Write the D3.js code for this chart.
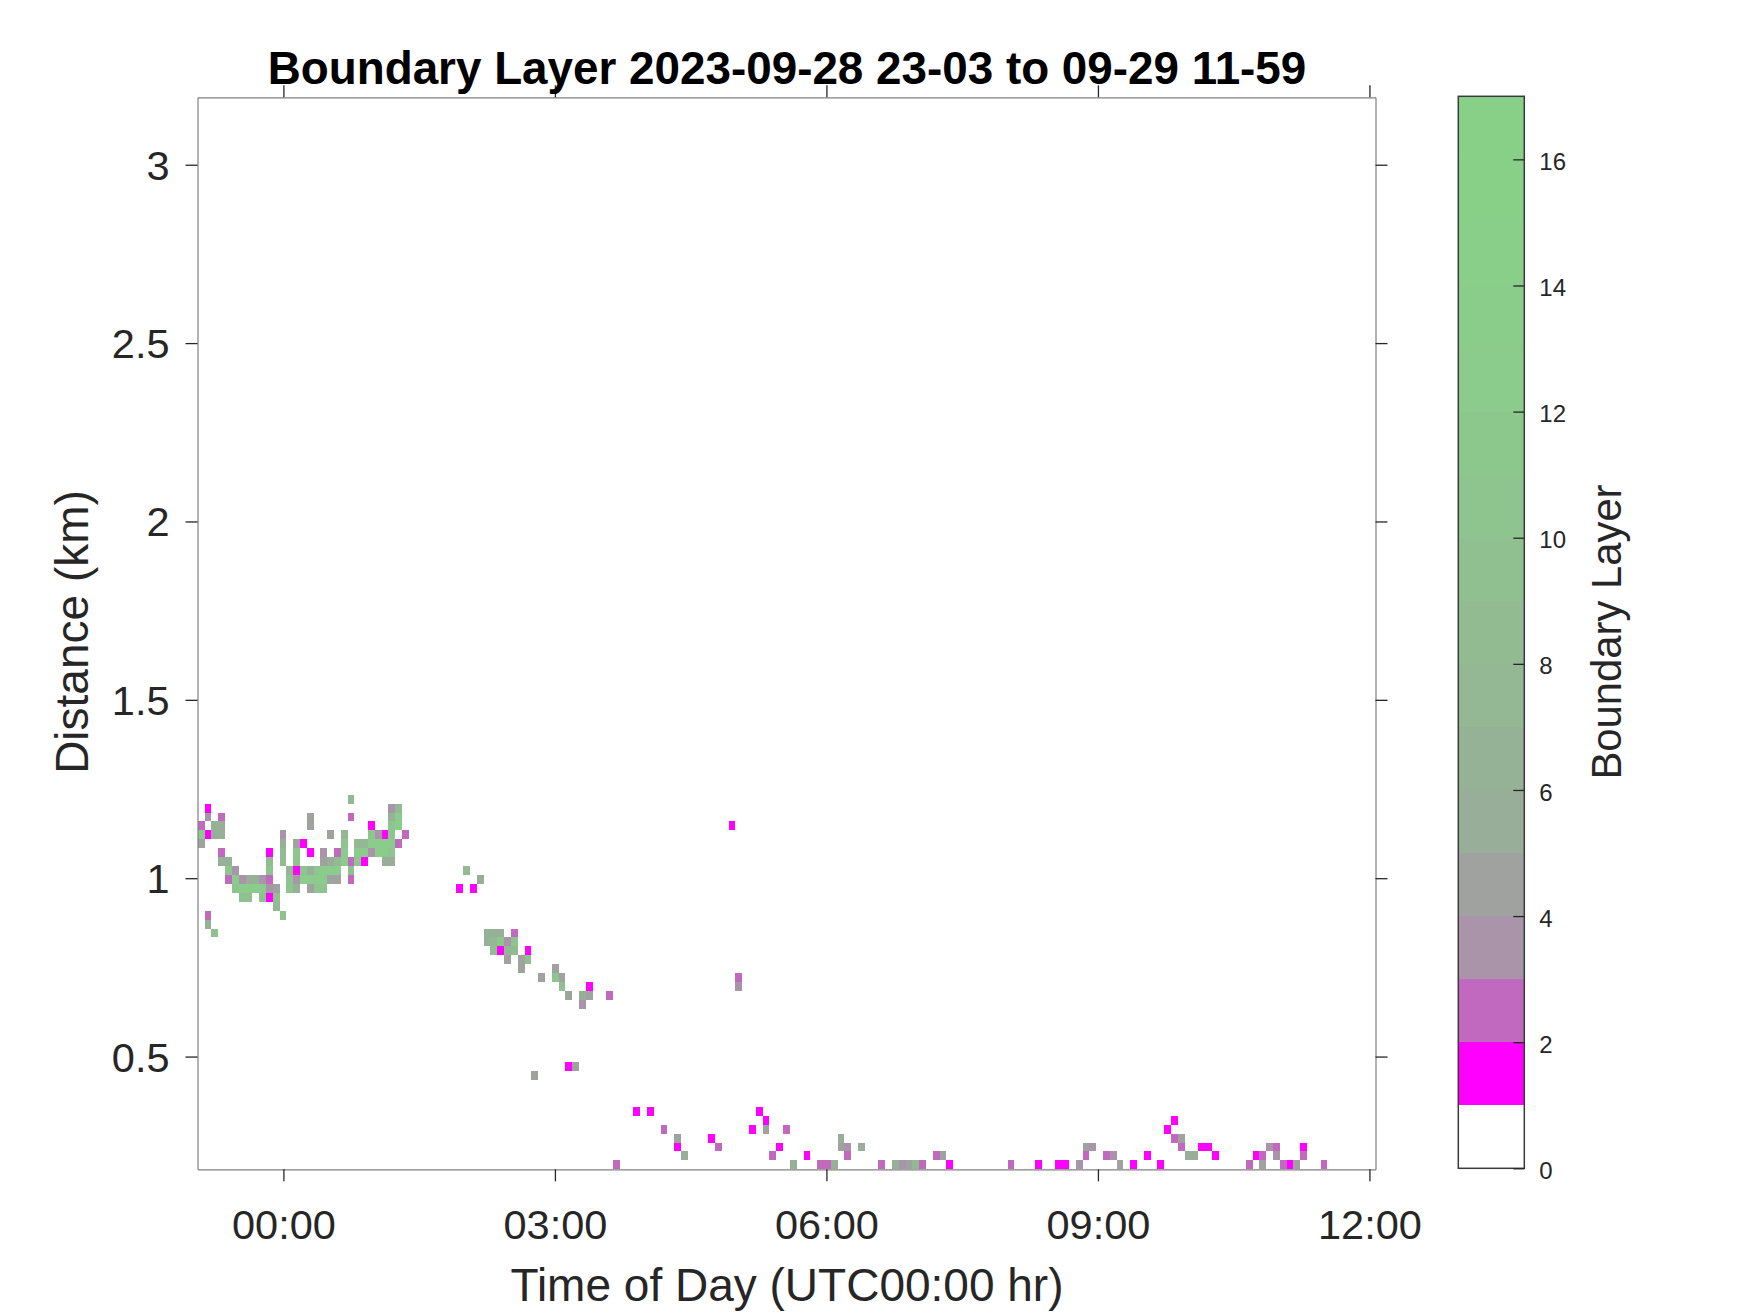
<!DOCTYPE html>
<html><head><meta charset="utf-8">
<script src="https://cdn.jsdelivr.net/npm/d3@7"></script>
<style>html,body{margin:0;background:#fff}svg{display:block}text{font-family:"Liberation Sans",Arial,sans-serif}</style>
</head><body><svg id="c" width="1750" height="1313"></svg>
<script>
const titleText = "Boundary Layer 2023-09-28 23-03 to 09-29 11-59";
const xLabel = "Time of Day (UTC00:00 hr)";
const yLabel = "Distance (km)";
const cLabel = "Boundary Layer";
const xTicks = [0, 3, 6, 9, 12];
const xTickLabels = ["00:00", "03:00", "06:00", "09:00", "12:00"];
const yTicks = [0.5, 1, 1.5, 2, 2.5, 3];
const yTickLabels = ["0.5", "1", "1.5", "2", "2.5", "3"];
const cTicks = [0, 2, 4, 6, 8, 10, 12, 14, 16];
const xDomain = [-0.9492, 12.067];
const yDomain = [0.184, 3.189];
const cDomain = [0, 17];
// first scan time (hours) and time step; first gate distance (km) and gate step
const startHour = -0.945, hourStep = 0.07519;
const startKm = 0.184, kmStep = 0.025;
// colormap, one colour per level 0..16
const levelColors = ["#ffffff","#ff00ff","#c069bf","#aa94aa","#9fa29f","#98ae98","#96b296","#94b794","#92bb92","#90c090","#8ec48e","#8cc88c","#8bcb8b","#8acd8a","#89ce89","#88cf88","#88d088"];
// [time bin, gate, level]
const cells = [
[22,41,7],
[1,40,1],[28,40,3],[29,40,8],
[1,39,3],[3,39,2],[16,39,4],[22,39,2],[28,39,6],[29,39,12],
[0,38,2],[2,38,6],[3,38,5],[16,38,4],[25,38,1],[28,38,10],[29,38,12],[78,38,1],
[0,37,12],[1,37,1],[2,37,5],[3,37,5],[12,37,3],[19,37,4],[21,37,7],[25,37,10],[26,37,3],[27,37,1],[28,37,10],[30,37,2],
[0,36,4],[12,36,6],[14,36,4],[15,36,1],[21,36,10],[23,36,7],[24,36,7],[25,36,12],[26,36,12],[27,36,12],[28,36,12],[29,36,2],
[3,35,2],[10,35,1],[12,35,8],[14,35,10],[16,35,1],[18,35,3],[20,35,2],[21,35,12],[23,35,12],[24,35,12],[25,35,3],[26,35,12],[27,35,12],[28,35,10],
[3,34,6],[4,34,6],[10,34,8],[12,34,8],[14,34,10],[18,34,4],[19,34,5],[20,34,8],[21,34,12],[22,34,2],[23,34,10],[24,34,1],[27,34,5],[28,34,5],
[4,33,10],[5,33,3],[10,33,10],[13,33,7],[14,33,1],[15,33,10],[16,33,6],[17,33,10],[18,33,12],[19,33,12],[20,33,12],[22,33,9],[39,33,8],
[4,32,2],[5,32,12],[6,32,3],[7,32,5],[8,32,6],[9,32,3],[10,32,2],[13,32,10],[14,32,3],[15,32,12],[16,32,12],[17,32,12],[18,32,12],[19,32,4],[20,32,4],[22,32,2],[41,32,5],
[5,31,10],[6,31,12],[7,31,12],[8,31,12],[9,31,12],[10,31,3],[11,31,4],[13,31,10],[14,31,6],[16,31,4],[17,31,10],[18,31,10],[38,31,1],[40,31,1],
[6,30,9],[7,30,9],[9,30,9],[10,30,1],[11,30,9],
[11,29,8],
[1,28,2],[12,28,9],
[1,27,6],
[2,26,9],[42,26,6],[43,26,6],[44,26,5],[46,26,2],
[42,25,6],[43,25,7],[44,25,11],[45,25,3],[46,25,10],
[43,24,9],[44,24,1],[45,24,7],[46,24,8],[48,24,1],
[45,23,4],[47,23,4],[48,23,9],
[47,22,4],[52,22,4],
[50,21,4],[52,21,10],[53,21,4],[79,21,2],
[53,20,9],[57,20,1],[79,20,3],
[54,19,4],[56,19,5],[57,19,4],[60,19,2],
[56,18,3],
[54,11,1],[55,11,4],
[49,10,4],
[64,6,1],[66,6,1],[82,6,1],
[83,5,1],[143,5,1],
[68,4,2],[81,4,1],[83,4,4],[86,4,2],[142,4,1],
[70,3,4],[75,3,1],[94,3,5],[143,3,2],[144,3,4],
[70,2,1],[76,2,2],[85,2,1],[94,2,4],[95,2,3],[97,2,5],[130,2,4],[131,2,3],[144,2,2],[147,2,1],[148,2,1],[157,2,3],[158,2,2],[162,2,1],
[71,1,5],[84,1,2],[89,1,1],[95,1,2],[108,1,2],[109,1,4],[130,1,2],[133,1,2],[134,1,3],[139,1,1],[145,1,5],[146,1,5],[149,1,1],[155,1,1],[156,1,2],[158,1,3],[162,1,2],
[61,0,2],[87,0,5],[91,0,2],[92,0,2],[93,0,6],[100,0,2],[102,0,6],[103,0,3],[104,0,4],[105,0,7],[106,0,2],[110,0,1],[119,0,2],[123,0,1],[126,0,1],[127,0,1],[129,0,3],[135,0,4],[137,0,1],[141,0,1],[154,0,2],[156,0,4],[159,0,2],[160,0,1],[161,0,4],[165,0,2]
];

const plotL = 197.5, plotR = 1375.5, plotT = 97.3, plotB = 1169.3;
const barL = 1458.3, barR = 1524.3, barT = 96.3, barB = 1168.3;
const ink = "#262626", frame = "#808080";

const svg = d3.select("#c");
const x = d3.scaleLinear().domain(xDomain).range([plotL, plotR]);
const y = d3.scaleLinear().domain(yDomain).range([plotB, plotT]);
const c = d3.scaleLinear().domain(cDomain).range([barB, barT]);

svg.append("clipPath").attr("id","plot").append("rect")
  .attr("x",plotL).attr("y",plotT).attr("width",plotR-plotL).attr("height",plotB-plotT);

svg.append("g").attr("clip-path","url(#plot)").attr("shape-rendering","crispEdges").selectAll("rect").data(cells).join("rect")
  .attr("x", d => x(startHour + d[0]*hourStep))
  .attr("width", d => x(startHour + (d[0]+1)*hourStep) - x(startHour + d[0]*hourStep))
  .attr("y", d => y(startKm + (d[1]+1)*kmStep))
  .attr("height", d => y(startKm + d[1]*kmStep) - y(startKm + (d[1]+1)*kmStep))
  .attr("fill", d => levelColors[d[2]]);

function styleAxis(g, fs) {
  g.select(".domain").attr("stroke", frame).attr("stroke-width", 1.2);
  g.selectAll(".tick line").attr("stroke", ink).attr("stroke-width", 1.3);
  g.selectAll(".tick text").attr("fill", ink).attr("font-size", fs).attr("font-family", '"Liberation Sans",Arial,sans-serif');
}
const xFmt = d => xTickLabels[xTicks.indexOf(d)];
const yFmt = d => yTickLabels[yTicks.indexOf(d)];
svg.append("g").attr("transform",`translate(0,${plotB})`)
  .call(d3.axisBottom(x).tickValues(xTicks).tickFormat(xFmt).tickSize(12).tickSizeOuter(0).tickPadding(28))
  .call(g => styleAxis(g, 41.5));
svg.append("g").attr("transform",`translate(0,${plotT})`)
  .call(d3.axisTop(x).tickValues(xTicks).tickFormat("").tickSize(12).tickSizeOuter(0))
  .call(g => styleAxis(g, 41.5));
svg.append("g").attr("transform",`translate(${plotL},0)`)
  .call(d3.axisLeft(y).tickValues(yTicks).tickFormat(yFmt).tickSize(12).tickSizeOuter(0).tickPadding(16))
  .call(g => styleAxis(g, 41.5))
  .call(g => g.selectAll(".tick text").attr("dy","0.35em"));
svg.append("g").attr("transform",`translate(${plotR},0)`)
  .call(d3.axisRight(y).tickValues(yTicks).tickFormat("").tickSize(12).tickSizeOuter(0))
  .call(g => styleAxis(g, 41.5));

// colour bar
svg.append("g").attr("shape-rendering","crispEdges").selectAll("rect").data(levelColors).join("rect")
  .attr("x", barL).attr("width", barR-barL)
  .attr("y", (d,i) => c(i+1)).attr("height", (d,i) => c(i)-c(i+1))
  .attr("fill", d => d);
svg.append("rect").attr("x",barL).attr("y",barT).attr("width",barR-barL).attr("height",barB-barT)
  .attr("fill","none").attr("stroke","#3a3a3a").attr("stroke-width",1.5);
const cAxis = svg.append("g").attr("transform",`translate(${barR},0)`)
  .call(d3.axisRight(c).tickValues(cTicks).tickFormat(d3.format("d")).tickSize(0).tickPadding(15));
cAxis.select(".domain").remove();
cAxis.selectAll(".tick text").attr("fill",ink).attr("font-size",24).attr("dy","0.42em").attr("font-family",'"Liberation Sans",Arial,sans-serif');
cAxis.selectAll(".tick").append("line").attr("x1",-11).attr("x2",0).attr("stroke",ink).attr("stroke-width",1.3);

// titles
svg.append("text").attr("x",787).attr("y",84).attr("text-anchor","middle").attr("font-size",45.8).attr("font-weight","bold").attr("fill","#000").text(titleText);
svg.append("text").attr("x",787).attr("y",1301).attr("text-anchor","middle").attr("font-size",46).attr("fill",ink).text(xLabel);
svg.append("text").attr("transform","translate(88,632) rotate(-90)").attr("text-anchor","middle").attr("font-size",46).attr("fill",ink).text(yLabel);
svg.append("text").attr("transform","translate(1621,632) rotate(-90)").attr("text-anchor","middle").attr("font-size",41.8).attr("fill",ink).text(cLabel);
</script></body></html>
